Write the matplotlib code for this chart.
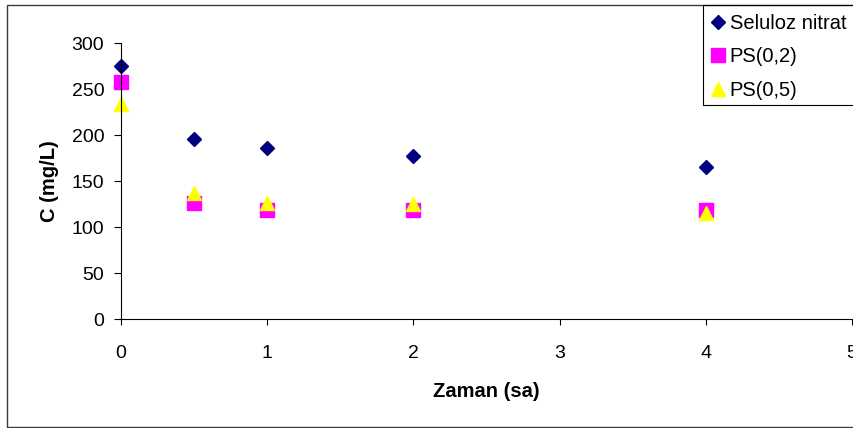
import matplotlib
matplotlib.use("Agg")
import matplotlib.pyplot as plt
from matplotlib.patches import Rectangle

# Sampling times (h) and measured concentrations (mg/L)
time_h = [0, 0.5, 1, 2, 4]
seluloz_nitrat = [275, 196, 186, 177, 165]
ps_02 = [258, 126, 118, 119, 118]
ps_05 = [234, 137, 126, 125, 115]

series_labels = ["Seluloz nitrat", "PS(0,2)", "PS(0,5)"]
x_ticks = [0, 1, 2, 3, 4, 5]
y_ticks = [0, 50, 100, 150, 200, 250, 300]

plt.rcParams["font.family"] = ["Liberation Sans", "DejaVu Sans"]

W, H, DPI = 854, 428, 100
fig = plt.figure(figsize=(W / DPI, H / DPI), dpi=DPI)

def px(x0, y0, x1, y1):
    """Pixel box (top-left origin) -> figure fraction rect."""
    return [x0 / W, 1 - y1 / H, (x1 - x0) / W, (y1 - y0) / H]

# Outer chart frame (extends past the right edge)
fig.patches.append(Rectangle((7 / W, 1 / H), (900 - 7) / W, (427 - 5) / H,
                             transform=fig.transFigure, fill=False,
                             edgecolor="#3c3c3c", linewidth=1.0))

ax = fig.add_axes(px(121, 43, 852, 319))
ax.set_xlim(0, 5)
ax.set_ylim(0, 300)

ax.plot(time_h, seluloz_nitrat, linestyle="none", marker="D", markersize=7.1,
        color="#000080", label=series_labels[0], clip_on=False)
ax.plot(time_h, ps_02, linestyle="none", marker="s", markersize=10,
        color="#FF00FF", label=series_labels[1], clip_on=False)
ax.plot(time_h, ps_05, linestyle="none", marker="^", markersize=10,
        color="#FFFF00", label=series_labels[2], clip_on=False)

for side in ("top", "right"):
    ax.spines[side].set_visible(False)
for side in ("left", "bottom"):
    ax.spines[side].set_linewidth(0.8)
    ax.spines[side].set_color("black")

ax.set_xticks(x_ticks)
ax.set_yticks(y_ticks)
ax.tick_params(axis="x", direction="out", length=4.5, width=0.8, pad=14.5, labelsize=14)
ax.tick_params(axis="y", direction="out", length=5, width=0.8, pad=7, labelsize=14)

ax.set_xlabel("Zaman (sa)", fontsize=14.5, fontweight="bold", labelpad=14)
ax.set_ylabel("C (mg/L)", fontsize=14.5, fontweight="bold", labelpad=9)

# Legend box, anchored top-right
fig.patches.append(Rectangle((703 / W, 1 - 105 / H), (900 - 703) / W, (105 - 5) / H,
                             transform=fig.transFigure, fill=False,
                             edgecolor="black", linewidth=0.8))
fig.legend(loc="upper left", bbox_to_anchor=(704 / W, 1 - 6 / H),
           frameon=False, fontsize=14.5, handlelength=0.65, handletextpad=0.25,
           labelspacing=0.72, borderpad=0.38, borderaxespad=0)

fig.savefig("out.png", dpi=DPI)
